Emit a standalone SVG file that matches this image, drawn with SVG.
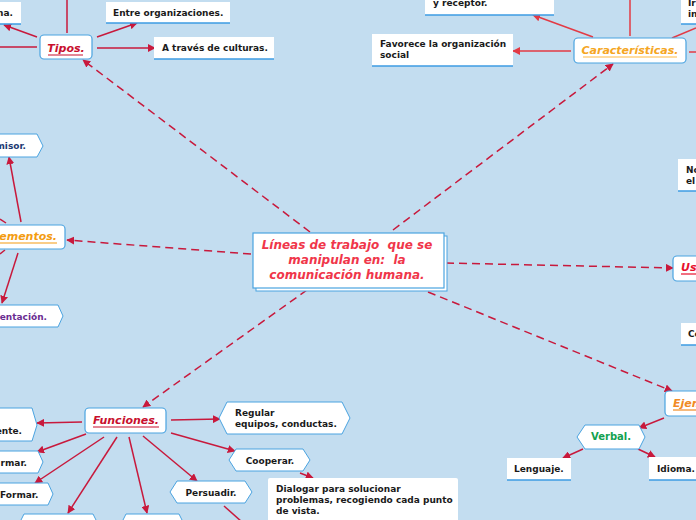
<svg xmlns="http://www.w3.org/2000/svg" width="696" height="520" viewBox="0 0 696 520">
<style>
.bg{fill:#c3ddf0}
.leaf{fill:#ffffff}
.lb{stroke:#3d9be3;stroke-width:1.5}
.hex{fill:#ffffff;stroke:#4aa3e0;stroke-width:1}
.topic{fill:#ffffff;stroke:#4aa3e0;stroke-width:1.2}
.t{font-family:"DejaVu Sans",Verdana,sans-serif;font-weight:bold;font-size:9px;fill:#1a1a1a}
.h{font-family:"DejaVu Sans",Verdana,sans-serif;font-weight:bold;font-style:italic;font-size:11px}
.c{stroke:#c8193c;stroke-width:1.5;fill:none}
.c2{stroke:#e33a45;stroke-width:1.5;fill:none}
.d{stroke:#c8193c;stroke-width:1.5;fill:none;stroke-dasharray:8 5}
</style>
<defs>
<marker id="ah" viewBox="0 0 10 10" refX="9" refY="5" markerWidth="8" markerHeight="8" markerUnits="userSpaceOnUse" orient="auto"><path d="M0,0 L10,5 L0,10 z" fill="#c8193c"/></marker>
<marker id="ah2" viewBox="0 0 10 10" refX="9" refY="5" markerWidth="8" markerHeight="8" markerUnits="userSpaceOnUse" orient="auto"><path d="M0,0 L10,5 L0,10 z" fill="#e33a45"/></marker>
</defs>
<rect class="bg" x="0" y="0" width="696" height="520"/>

<g id="connectors">
<line class="d" x1="310" y1="232" x2="83" y2="60" marker-end="url(#ah)"/>
<line class="d" x1="393" y1="230" x2="613" y2="64" marker-end="url(#ah)"/>
<line class="d" x1="251" y1="254" x2="67" y2="240" marker-end="url(#ah)"/>
<line class="d" x1="446" y1="263" x2="673" y2="268" marker-end="url(#ah)"/>
<line class="d" x1="428" y1="292" x2="672" y2="391" marker-end="url(#ah)"/>
<line class="d" x1="307" y1="290" x2="143" y2="407" marker-end="url(#ah)"/>
<line class="c" x1="67" y1="33" x2="67" y2="0"/>
<line class="c" x1="37" y1="37" x2="4" y2="25" marker-end="url(#ah)"/>
<line class="c" x1="37" y1="47" x2="0" y2="47"/>
<line class="c" x1="97" y1="37" x2="137" y2="23" marker-end="url(#ah)"/>
<line class="c" x1="97" y1="48" x2="155" y2="48" marker-end="url(#ah)"/>
<line class="c2" x1="630" y1="36" x2="630" y2="0"/>
<line class="c2" x1="672" y1="38" x2="696" y2="28"/>
<line class="c2" x1="689" y1="52" x2="696" y2="52"/>
<line class="c2" x1="593" y1="37" x2="533" y2="15" marker-end="url(#ah2)"/>
<line class="c2" x1="571" y1="51" x2="513" y2="51" marker-end="url(#ah2)"/>
<line class="c" x1="21" y1="222" x2="9" y2="157" marker-end="url(#ah)"/>
<line class="c" x1="18" y1="253" x2="2" y2="303" marker-end="url(#ah)"/>
<line class="c" x1="6" y1="223" x2="0" y2="219"/>
<line class="c" x1="5" y1="250" x2="0" y2="254"/>
<line class="c" x1="82" y1="422" x2="37" y2="423" marker-end="url(#ah)"/>
<line class="c" x1="86" y1="434" x2="37" y2="452" marker-end="url(#ah)"/>
<line class="c" x1="104" y1="437" x2="35" y2="483" marker-end="url(#ah)"/>
<line class="c" x1="117" y1="437" x2="68" y2="513" marker-end="url(#ah)"/>
<line class="c" x1="129" y1="437" x2="147" y2="513" marker-end="url(#ah)"/>
<line class="c" x1="143" y1="436" x2="197" y2="481" marker-end="url(#ah)"/>
<line class="c" x1="171" y1="433" x2="235" y2="451" marker-end="url(#ah)"/>
<line class="c" x1="171" y1="420" x2="220" y2="419" marker-end="url(#ah)"/>
<line class="c" x1="300" y1="473" x2="313" y2="478" marker-end="url(#ah)"/>
<line class="c" x1="224" y1="506" x2="242" y2="522"/>
<line class="c" x1="664" y1="418" x2="639" y2="428" marker-end="url(#ah)"/>
<line class="c" x1="583" y1="449" x2="563" y2="458" marker-end="url(#ah)"/>
<line class="c" x1="638" y1="449" x2="655" y2="457" marker-end="url(#ah)"/>
</g>

<g id="central">
<rect x="256" y="236" width="191" height="55" fill="#ffffff" stroke="#4aa3e0" stroke-width="1"/>
<rect x="253" y="233" width="191" height="55" fill="#ffffff" stroke="#4aa3e0" stroke-width="1.2"/>
<text xml:space="preserve" font-family="'DejaVu Sans',Verdana,sans-serif" font-weight="bold" font-style="italic" font-size="12" fill="#f0364a" text-anchor="middle"><tspan x="347" y="249">Líneas de trabajo  que se</tspan><tspan x="347" y="264">manipulan en:  la</tspan><tspan x="347" y="279">comunicación humana.</tspan></text>
</g>

<g id="tipos">
<rect class="topic" x="40" y="35" width="52" height="24" rx="4"/>
<text class="h" x="66" y="52" text-anchor="middle" style="fill:#c8102e">Tipos.</text>
<line x1="48" y1="55" x2="83" y2="55" stroke="#c8102e" stroke-width="1.2"/>
</g>
<g id="tipos-na">
<rect class="leaf" x="-40" y="2" width="61" height="22"/>
<line class="lb" x1="-40" y1="24" x2="21" y2="24"/>
<text class="t" x="13" y="16" text-anchor="end">na.</text>
</g>
<g id="entre">
<rect class="leaf" x="106" y="2" width="124" height="21"/>
<line class="lb" x1="106" y1="23" x2="230" y2="23"/>
<text class="t" x="113" y="16">Entre organizaciones.</text>
</g>
<g id="culturas">
<rect class="leaf" x="154" y="37" width="120" height="22"/>
<line class="lb" x1="154" y1="59" x2="274" y2="59"/>
<text class="t" x="162" y="51">A través de culturas.</text>
</g>

<g id="caracteristicas">
<rect class="topic" x="574" y="38" width="112" height="25" rx="4"/>
<text class="h" x="630" y="54" text-anchor="middle" style="fill:#f5a623">Características.</text>
<line x1="583" y1="57" x2="677" y2="57" stroke="#ffd080" stroke-width="1.5"/>
</g>
<g id="receptor">
<rect class="leaf" x="425" y="-10" width="129" height="25"/>
<line class="lb" x1="425" y1="15" x2="554" y2="15"/>
<text class="t" x="433" y="6">y receptor.</text>
</g>
<g id="favorece">
<rect class="leaf" x="372" y="34" width="141" height="32"/>
<line class="lb" x1="372" y1="66" x2="513" y2="66"/>
<text class="t"><tspan x="380" y="47">Favorece la organización</tspan><tspan x="380" y="58">social</tspan></text>
</g>
<g id="ir">
<rect class="leaf" x="681" y="-5" width="30" height="29"/>
<line class="lb" x1="681" y1="24" x2="696" y2="24"/>
<text class="t"><tspan x="688" y="6">Ir</tspan><tspan x="688" y="17">in</tspan></text>
</g>

<g id="elementos">
<rect class="topic" x="-40" y="225" width="105" height="24" rx="4"/>
<text class="h" x="57" y="240" text-anchor="end" style="fill:#f39c12">Elementos.</text>
<line x1="-12" y1="243" x2="57" y2="243" stroke="#f39c12" stroke-width="1.2"/>
</g>
<g id="emisor">
<polygon class="hex" points="-20,134 37,134 43,146 37,157 -20,157"/>
<text class="t" x="26" y="149" text-anchor="end" style="fill:#1f3b73">misor.</text>
</g>
<g id="entacion">
<polygon class="hex" points="-20,305 58,305 63,316 58,327 -20,327"/>
<text class="t" x="47" y="320" text-anchor="end" style="fill:#6a2c91">entación.</text>
</g>

<g id="usos">
<rect class="topic" x="673" y="256" width="40" height="25" rx="4"/>
<text class="h" x="681" y="271" style="fill:#e8112d">Us</text>
<line x1="681" y1="274" x2="696" y2="274" stroke="#e8112d" stroke-width="1.2"/>
</g>
<g id="no-el">
<rect class="leaf" x="678" y="159" width="30" height="32"/>
<line class="lb" x1="678" y1="191" x2="696" y2="191"/>
<text class="t"><tspan x="686" y="173">No</tspan><tspan x="686" y="184">el</tspan></text>
</g>
<g id="co">
<rect class="leaf" x="681" y="323" width="30" height="22"/>
<line class="lb" x1="681" y1="345" x2="696" y2="345"/>
<text class="t" x="688" y="337">Co</text>
</g>

<g id="ejemplos">
<rect class="topic" x="665" y="391" width="50" height="25" rx="4"/>
<text class="h" x="673" y="407" style="fill:#f08a24">Ejem</text>
<line x1="673" y1="410" x2="696" y2="410" stroke="#f08a24" stroke-width="1.2"/>
</g>
<g id="verbal">
<polygon class="hex" points="585,425 639,425 645,437 639,449 585,449 577,437"/>
<text class="t" x="611" y="440" text-anchor="middle" style="fill:#12a150;font-size:10px">Verbal.</text>
</g>
<g id="lenguaje">
<rect class="leaf" x="507" y="458" width="64" height="22"/>
<line class="lb" x1="507" y1="480" x2="571" y2="480"/>
<text class="t" x="514" y="472">Lenguaje.</text>
</g>
<g id="idioma">
<rect class="leaf" x="649" y="457" width="60" height="23"/>
<line class="lb" x1="649" y1="480" x2="696" y2="480"/>
<text class="t" x="657" y="472">Idioma.</text>
</g>

<g id="funciones">
<rect class="topic" x="85" y="408" width="81" height="25" rx="4"/>
<text class="h" x="126" y="424" text-anchor="middle" style="fill:#c8102e">Funciones.</text>
<line x1="93" y1="427" x2="159" y2="427" stroke="#c8102e" stroke-width="1.2"/>
</g>
<g id="ente">
<polygon class="hex" points="-20,408 32,408 37,425 32,441 -20,441"/>
<text class="t" x="22" y="434" text-anchor="end">ente.</text>
</g>
<g id="rmar">
<polygon class="hex" points="-20,451 38,451 43,462 38,473 -20,473"/>
<text class="t" x="27" y="466" text-anchor="end">rmar.</text>
</g>
<g id="formar">
<polygon class="hex" points="-20,483 48,483 53,494 48,505 -20,505"/>
<text class="t" x="0" y="498">Formar.</text>
</g>
<g id="bottom1">
<polygon class="hex" points="24,514 93,514 99,526 93,538 24,538 18,526"/>
</g>
<g id="bottom2">
<polygon class="hex" points="126,514 179,514 185,526 179,538 126,538 120,526"/>
</g>
<g id="persuadir">
<polygon class="hex" points="177,481 245,481 252,492 245,503 177,503 170,492"/>
<text class="t" x="211" y="496" text-anchor="middle">Persuadir.</text>
</g>
<g id="cooperar">
<polygon class="hex" points="236,449 303,449 310,460 303,471 236,471 229,460"/>
<text class="t" x="270" y="464" text-anchor="middle">Cooperar.</text>
</g>
<g id="regular">
<polygon class="hex" points="227,402 342,402 350,418 342,434 227,434 219,418"/>
<text class="t"><tspan x="235" y="416">Regular</tspan><tspan x="235" y="427">equipos, conductas.</tspan></text>
</g>
<g id="dialogar">
<rect class="leaf" x="268" y="478" width="190" height="50" rx="2"/>
<text class="t"><tspan x="276" y="492">Dialogar para solucionar</tspan><tspan x="276" y="503">problemas, recogiendo cada punto</tspan><tspan x="276" y="514">de vista.</tspan></text>
</g>
</svg>
